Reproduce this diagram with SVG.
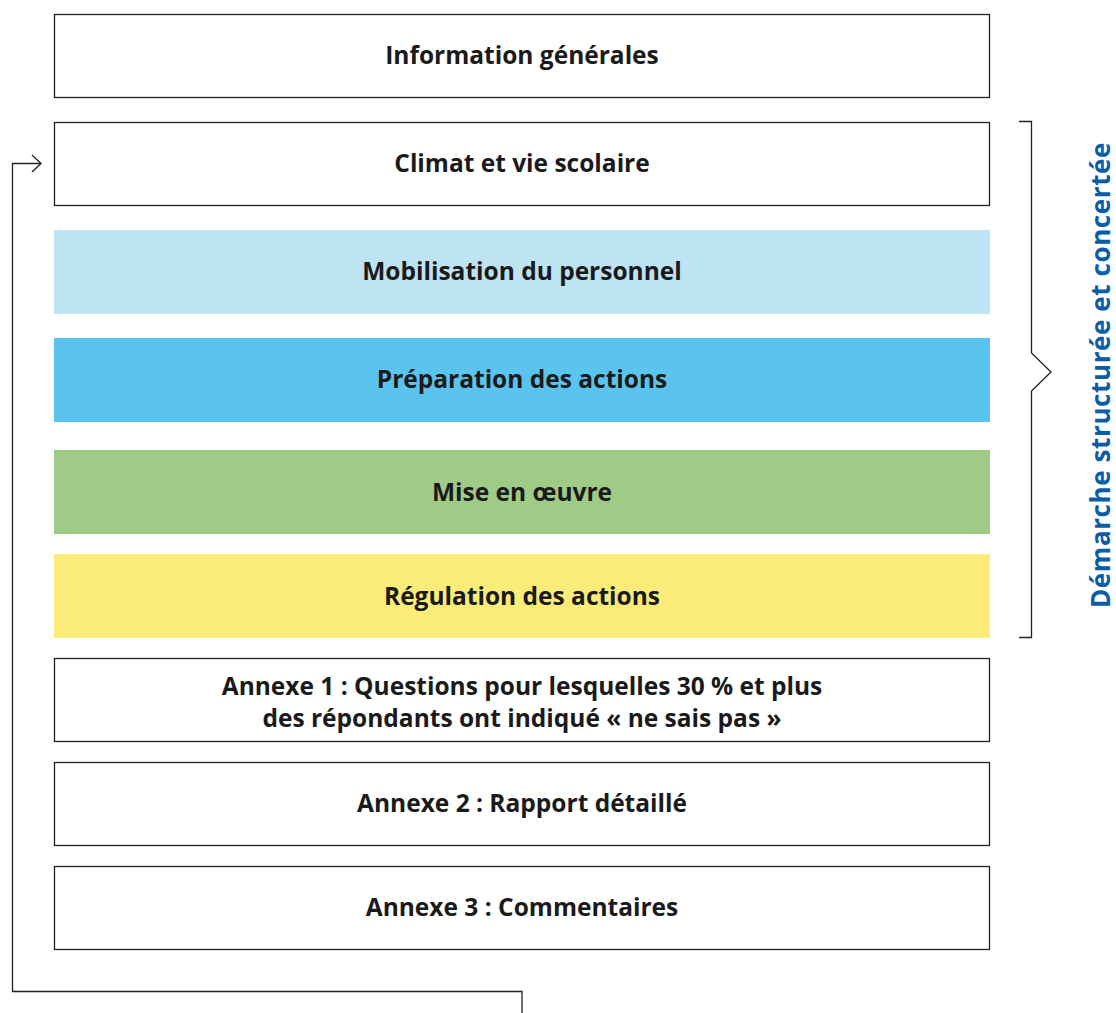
<svg xmlns="http://www.w3.org/2000/svg" width="1116" height="1013" viewBox="0 0 1116 1013">
<style>
.box{stroke:#222;stroke-width:1.3}
.t{font-family:"Open Sans","Noto Sans",sans-serif;font-weight:bold;font-size:24.5px;fill:#1a1a1a;text-anchor:middle}
.ln{fill:none;stroke:#222;stroke-width:1.3}
</style>
<rect width="1116" height="1013" fill="#fff"/>
<g id="n1"><rect class="box" x="54.5" y="14.5" width="935" height="83" fill="#fff"/><text class="t" x="522" y="64">Information générales</text></g>
<g id="n2"><rect class="box" x="54.5" y="122.5" width="935" height="83" fill="#fff"/><text class="t" x="522" y="172">Climat et vie scolaire</text></g>
<g id="n3"><rect x="54" y="230" width="936" height="84" fill="#BEE3F2"/><text class="t" x="522" y="280">Mobilisation du personnel</text></g>
<g id="n4"><rect x="54" y="338" width="936" height="84" fill="#5BC4EE"/><text class="t" x="522" y="388">Préparation des actions</text></g>
<g id="n5"><rect x="54" y="450" width="936" height="84" fill="#9FCB86"/><text class="t" x="522" y="501">Mise en œuvre</text></g>
<g id="n6"><rect x="54" y="554" width="936" height="84" fill="#FBEC7A"/><text class="t" x="522" y="605">Régulation des actions</text></g>
<g id="n7"><rect class="box" x="54.5" y="658.5" width="935" height="83" fill="#fff"/><text class="t" x="522" y="695">Annexe 1 : Questions pour lesquelles 30 % et plus</text><text class="t" x="522" y="727">des répondants ont indiqué « ne sais pas »</text></g>
<g id="n8"><rect class="box" x="54.5" y="762.5" width="935" height="83" fill="#fff"/><text class="t" x="522" y="812">Annexe 2 : Rapport détaillé</text></g>
<g id="n9"><rect class="box" x="54.5" y="866.5" width="935" height="83" fill="#fff"/><text class="t" x="522" y="916">Annexe 3 : Commentaires</text></g>
<g id="connectors">
<path class="ln" d="M522,1013 V991.5 H12.5 V163.5 H41"/>
<path class="ln" d="M32,155 L41,163.5 L32,172"/>
<path class="ln" d="M1019,121.5 H1031.5 V353 L1051,372 L1031.5,391 V637.5 H1019"/>
</g>
<g id="label"><text transform="translate(1110,375) rotate(-90)" style="font-family:'Open Sans','Noto Sans',sans-serif;font-weight:bold;font-size:26px;letter-spacing:0.6px;fill:#0A5DA6;text-anchor:middle">Démarche structurée et concertée</text></g>
</svg>
